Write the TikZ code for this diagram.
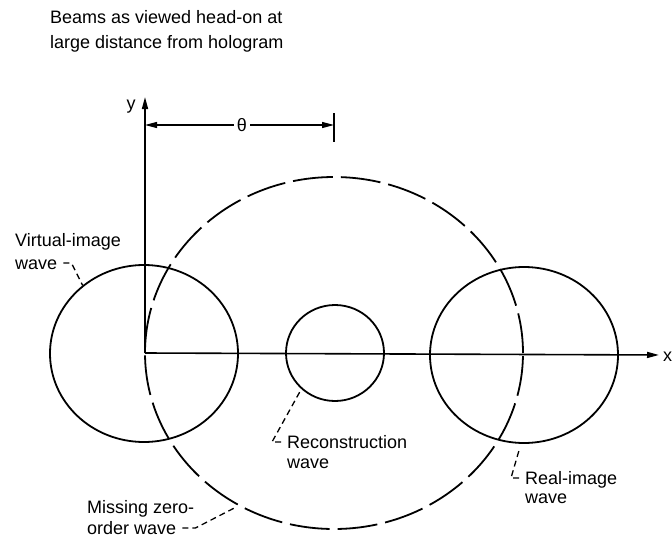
\documentclass[tikz,border=0pt]{standalone}
\usepackage{fontspec}
\setmainfont{Liberation Sans}
\usetikzlibrary{shapes.geometric,arrows.meta,positioning,calc}

\begin{document}
\begin{tikzpicture}[x=1pt,y=-1pt,
 beam/.style={ellipse,draw,line width=1.8pt,inner sep=0pt},
 lbl/.style={font=\fontsize{18}{21}\selectfont,anchor=west,inner sep=0pt,text height=13pt,text depth=0pt},
 leader/.style={line width=1.3pt,dash pattern=on 6pt off 4pt},
 tip/.style={-{Triangle[length=12pt,width=6pt]},line width=1.6pt}]
\useasboundingbox (0,0) rectangle (672,541);
% the four beams
\coordinate (O) at (145,353);
\node[beam,minimum width=188pt,minimum height=177pt] (virt) at (144,353.5){};
\node[beam,dash pattern=on 40pt off 8pt,minimum width=378pt,minimum height=352pt] (zero) at (334,353){};
\node[beam,minimum width=98pt,minimum height=96pt] (recon) at (335,353){};
\node[beam,minimum width=188pt,minimum height=176pt] (real) at (524,355){};
% axes
\node[lbl] (xlab) at (663,355){x};
\draw[tip,shorten >=4pt] (O) -- (xlab.west);
\node[lbl,anchor=center] (ylab) at (131,103){y};
\coordinate (ytip) at (145,97);
\draw[tip] (O) -- (ytip);
% angle theta
\node[lbl,anchor=center,inner sep=3pt] (theta) at (242,125){θ};
\coordinate (thL) at (O |- theta);
\coordinate (thR) at (zero.center |- theta);
\draw[tip,line width=1.3pt] (theta.west) -- (thL);
\draw[tip,line width=1.3pt] (theta.east) -- (thR);
\draw[line width=1.3pt] ([yshift=12pt]thR) -- ([yshift=-17pt]thR);
% labels
\node[lbl] (title1) at (50,17){Beams as viewed head-on at};
\node[lbl] (title2) at (50,42){large distance from hologram};
\node[lbl] (virt1) at (15,240){Virtual-image};
\node[lbl] (virt2) at (15,263){wave};
\node[lbl] (recon1) at (287,442){Reconstruction};
\node[lbl] (recon2) at (287,462){wave};
\node[lbl] (real1) at (525,478){Real-image};
\node[lbl] (real2) at (525,497){wave};
\node[lbl] (zero1) at (87,507){Missing zero-};
\node[lbl] (zero2) at (87,528){order wave};
% leaders
\draw[leader] (virt2.east) ++(6,0) -- ++(8,0) -- (virt.132);
\draw[leader,shorten >=3pt] ([xshift=-6pt]recon1.west) -- ++(-9,0) -- (recon.227);
\draw[leader,shorten >=6pt] ([xshift=-6pt]real1.west) -- ++(-8,0) -- (real.268);
\draw[leader,shorten >=5pt] (zero2.east) ++(6,0) -- ++(13,0) -- (zero.238);
\end{tikzpicture}
\end{document}
